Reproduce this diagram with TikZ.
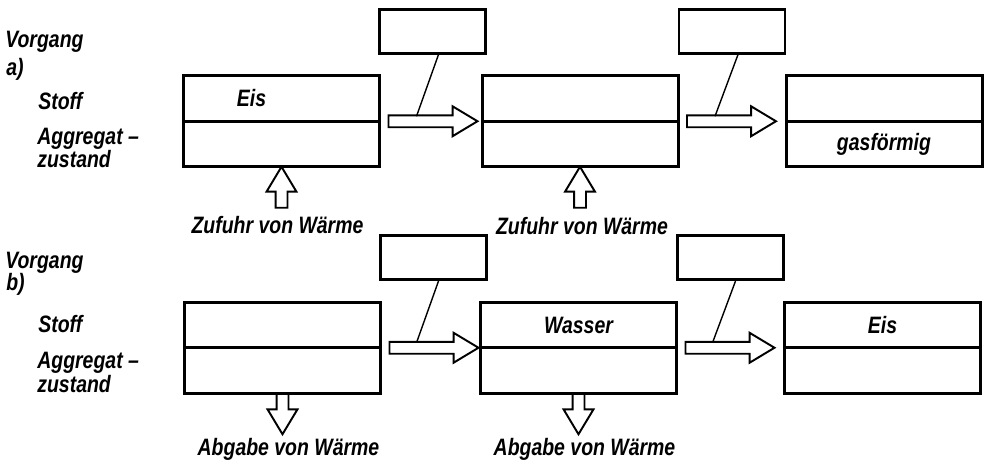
\documentclass[tikz,border=0pt]{standalone}
\usepackage{fontspec}
\setmainfont{Liberation Sans}[FakeStretch=0.82]
\usepackage{tikz}
\usetikzlibrary{shapes.arrows, positioning, calc}
\tikzstyle{zelle}=[draw, line width=1.7pt, outer sep=0pt, inner sep=0pt,
  minimum width=39.2mm, minimum height=9.1mm, font=\bfseries\itshape\fontsize{13.5}{16}\selectfont]
\tikzstyle{kasten}=[draw, line width=1.5pt, minimum width=21.2mm, minimum height=8.8mm]
\tikzstyle{hpfeil}=[draw, line width=1.1pt, single arrow, single arrow tip angle=62,
  single arrow head extend=1.8mm, inner xsep=0pt, inner ysep=1mm, outer sep=0pt,
  minimum height=17.8mm, minimum width=5.6mm]
\tikzstyle{vpfeil}=[hpfeil, minimum height=8.2mm]
\tikzstyle{linie}=[line width=0.8pt]
\tikzstyle{txt}=[font=\bfseries\itshape\fontsize{13.5}{16}\selectfont, inner sep=0pt]

\begin{document}
\begin{tikzpicture}[x=0.2mm, y=-0.2mm]
  \useasboundingbox (0,0) rectangle (988,468);
  % a) Zufuhr von Waerme
  \node[zelle, label={[txt, xshift=-6mm]center:Eis}] (a1s) at (281.5,98.5) {};
  \node[zelle, below=0pt of a1s] (a1z) {};
  \node[zelle, right=20.5mm of a1s] (a2s) {};
  \node[zelle, below=0pt of a2s] (a2z) {};
  \node[zelle, right=21.6mm of a2s] (a3s) {};
  \node[zelle, below=0pt of a3s] (a3z) {gasförmig};
  \node[hpfeil, anchor=tail] (p1) at ([xshift=1.8mm]a1s.south east) {};
  \node[hpfeil, anchor=tail] (p2) at ([xshift=1.8mm]a2s.south east) {};
  \node[kasten] (k1) at ($(p1.tail)+(44,-90)$) {};
  \node[kasten] (k2) at ($(p2.tail)+(45,-90)$) {};
  \draw[linie] ([xshift=1.2mm]k1.south) -- ($(p1.tail)+(28,-5)$);
  \draw[linie] ([xshift=1.2mm]k2.south) -- ($(p2.tail)+(28,-5)$);
  \node[vpfeil, rotate=90, anchor=tip] (u1) at (a1z.south) {};
  \node[vpfeil, rotate=90, anchor=tip] (u2) at (a2z.south) {};
  \node[txt, anchor=base] (z1) at ($(a1z.south)+(-4,67)$) {Zufuhr von Wärme};
  \node[txt, anchor=base] (z2) at ($(a2z.south)+(2,68)$) {Zufuhr von Wärme};
  \node[txt, anchor=base west] (va) at (5,47) {Vorgang};
  \node[txt, anchor=base west] (la) at (6,75) {a)};
  \node[txt, anchor=base west] (sa) at (38,109) {Stoff};
  \node[txt, anchor=base west] (ga) at (37,144) {Aggregat --};
  \node[txt, anchor=base west] (ha) at (37,167) {zustand};
  % b) Abgabe von Waerme
  \node[zelle] (b1s) at (282.5,325) {};
  \node[zelle, below=0pt of b1s] (b1z) {};
  \node[zelle, right=20mm of b1s] (b2s) {Wasser};
  \node[zelle, below=0pt of b2s] (b2z) {};
  \node[zelle, right=21.6mm of b2s] (b3s) {Eis};
  \node[zelle, below=0pt of b3s] (b3z) {};
  \node[hpfeil, anchor=tail] (p3) at ([xshift=1.8mm]b1s.south east) {};
  \node[hpfeil, anchor=tail] (p4) at ([xshift=1.8mm]b2s.south east) {};
  \node[kasten] (k3) at ($(p3.tail)+(44,-90)$) {};
  \node[kasten] (k4) at ($(p4.tail)+(45,-90)$) {};
  \draw[linie] ([xshift=1mm]k3.south) -- ($(p3.tail)+(27,-5)$);
  \draw[linie] ([xshift=1mm]k4.south) -- ($(p4.tail)+(27,-5)$);
  \node[vpfeil, rotate=-90, anchor=tail] (d1) at (b1z.south) {};
  \node[vpfeil, rotate=-90, anchor=tail] (d2) at (b2z.south) {};
  \node[txt, anchor=base] (w1) at ($(b1z.south)+(6,62)$) {Abgabe von Wärme};
  \node[txt, anchor=base] (w2) at ($(b2z.south)+(6,62)$) {Abgabe von Wärme};
  \node[txt, anchor=base west] (vb) at (5,268) {Vorgang};
  \node[txt, anchor=base west] (lb) at (6,290) {b)};
  \node[txt, anchor=base west] (sb) at (38,332) {Stoff};
  \node[txt, anchor=base west] (gb) at (37,368) {Aggregat --};
  \node[txt, anchor=base west] (hb) at (37,392) {zustand};
\end{tikzpicture}
\end{document}
